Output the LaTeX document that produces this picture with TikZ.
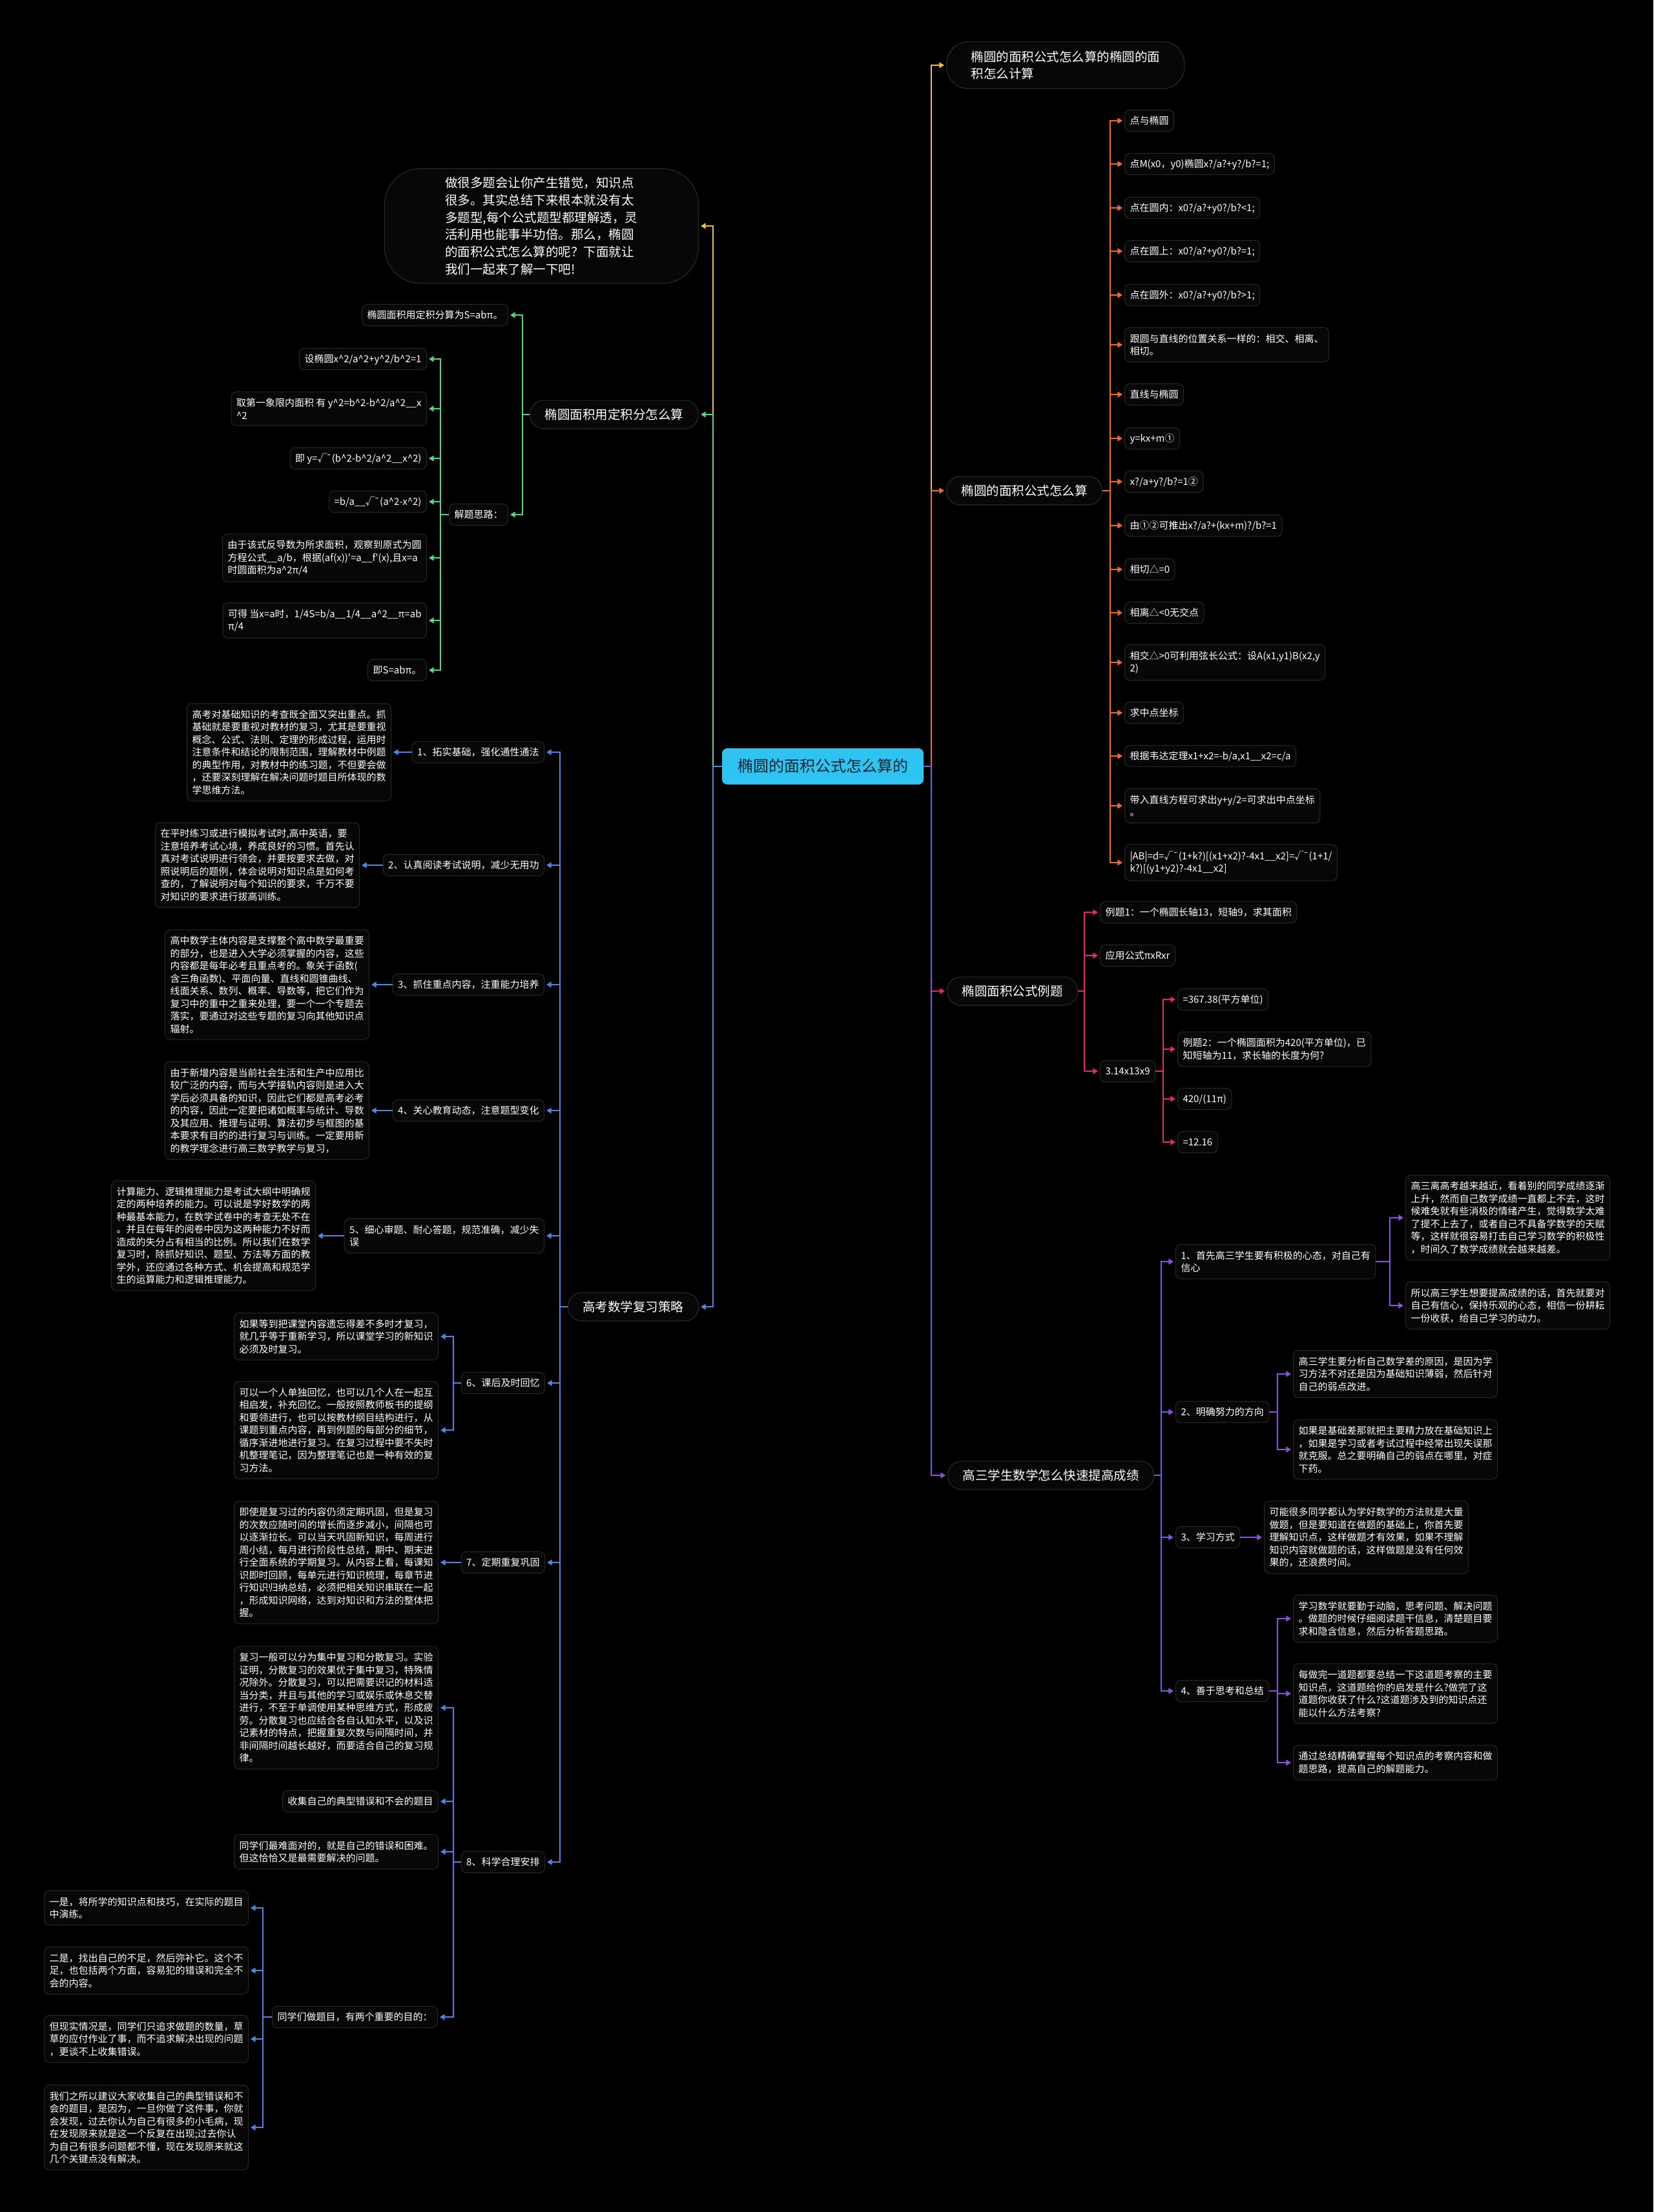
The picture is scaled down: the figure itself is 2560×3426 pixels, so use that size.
\documentclass[tikz,border=0pt]{standalone}
\usepackage{fontspec}
\setmainfont{Noto Sans CJK SC}
\usetikzlibrary{arrows.meta}
\definecolor{bg}{HTML}{000000}
\definecolor{bordc}{HTML}{282828}
\definecolor{nodef}{HTML}{070707}
\definecolor{cyanr}{HTML}{2EC3F1}
\definecolor{roott}{HTML}{1A2430}
\definecolor{cyel}{HTML}{F4BC36}
\definecolor{corg}{HTML}{F06B2B}
\definecolor{cpink}{HTML}{E8266E}
\definecolor{cpur}{HTML}{8B50E0}
\definecolor{cgrn}{HTML}{4FD87C}
\definecolor{cblu}{HTML}{4C87E3}
\newcommand\ca{\textasciicircum}
\newcommand\us{\_\_}
\newcommand\sqt{√\kern-0.12em¯}
\tikzset{
 leafbase/.style={draw=bordc, line width=0.5pt, fill=nodef, text=white, rounded corners=4pt,
   font=\fontsize{7.5}{9.75}\selectfont, inner xsep=4pt, inner ysep=4.5pt, align=left},
 leaf/.style={leafbase, text height=6.5pt, text depth=1.1pt},
 wide/.style={leafbase, inner ysep=5pt},
 lvlbase/.style={draw=bordc, line width=0.6pt, fill=nodef, text=white, rounded corners=10.5pt,
   font=\fontsize{9.75}{13.35}\selectfont, inner xsep=11.5pt, inner ysep=6pt},
 lvl/.style={lvlbase, text height=8.5pt, text depth=1.4pt},
 rootn/.style={fill=cyanr, text=roott, rounded corners=4pt, font=\fontsize{12}{14}\selectfont,
   inner xsep=12pt, inner ysep=7.9pt, text height=10.4pt, text depth=1.8pt},
 link/.style={line width=1pt, -{Triangle[length=3.8pt,width=4.4pt]}, shorten >=1.5pt},
}
\begin{document}
\begin{tikzpicture}[x=0.5pt,y=-0.5pt]
\fill[bg] (0,0) rectangle (2560,3426);
\useasboundingbox (0,0) rectangle (2560,3426);
% spine positions
\coordinate (sR) at (1442,0);
\coordinate (sL) at (1104,0);
\coordinate (sO) at (1719,0);
\coordinate (sP) at (1679,0);
\coordinate (sP2) at (1801,0);
\coordinate (sU) at (1798,0);
\coordinate (sU1) at (2152,0);
\coordinate (sU2) at (1978,0);
\coordinate (sG) at (809,0);
\coordinate (sG2) at (682,0);
\coordinate (sB) at (867,0);
\coordinate (sB6) at (702,0);
\coordinate (sB8d) at (407,0);

% root
\node[rootn] (root) at (1274,1187) {椭圆的面积公式怎么算的};

% right level 1
\node[lvlbase, anchor=west, align=left, inner xsep=19pt, inner ysep=7pt, rounded corners=17pt] (t1) at (1465,101) {椭圆的面积公式怎么算的椭圆的面\\积怎么计算};
\node[lvl, anchor=west] (t2) at (1465,760) {椭圆的面积公式怎么算};
\node[lvl, anchor=west] (t3) at (1466,1535) {椭圆面积公式例题};
\node[lvl, anchor=west] (t4) at (1467,2285) {高三学生数学怎么快速提高成绩};

% orange children
\node[leaf, anchor=west] (o1) at (1741,187) {点与椭圆};
\node[leaf, anchor=west] (o2) at (1741,254) {点M(x0，y0)椭圆x?/a?+y?/b?=1;};
\node[leaf, anchor=west] (o3) at (1741,322) {点在圆内：x0?/a?+y0?/b?<1;};
\node[leaf, anchor=west] (o4) at (1741,389) {点在圆上：x0?/a?+y0?/b?=1;};
\node[leaf, anchor=west] (o5) at (1741,457) {点在圆外：x0?/a?+y0?/b?>1;};
\node[wide, anchor=west] (o6) at (1741,534) {跟圆与直线的位置关系一样的：相交、相离、\\相切。};
\node[leaf, anchor=west] (o7) at (1741,611) {直线与椭圆};
\node[leaf, anchor=west] (o8) at (1741,679) {y=kx+m①};
\node[leaf, anchor=west] (o9) at (1741,746) {x?/a+y?/b?=1②};
\node[leaf, anchor=west] (o10) at (1741,814) {由①②可推出x?/a?+(kx+m)?/b?=1};
\node[leaf, anchor=west] (o11) at (1741,882) {相切△=0};
\node[leaf, anchor=west] (o12) at (1741,949) {相离△<0无交点};
\node[wide, anchor=west] (o13) at (1741,1026) {相交△>0可利用弦长公式：设A(x1,y1)B(x2,y\\2)};
\node[leaf, anchor=west] (o14) at (1741,1104) {求中点坐标};
\node[leaf, anchor=west] (o15) at (1741,1171) {根据韦达定理x1+x2=-b/a,x1\us x2=c/a};
\node[wide, anchor=west] (o16) at (1741,1248) {带入直线方程可求出y+y/2=可求出中点坐标\\。};
\node[wide, anchor=west] (o17) at (1741,1336) {|AB|=d=\sqt(1+k?)[(x1+x2)?-4x1\us x2]=\sqt(1+1/\\k?)[(y1+y2)?-4x1\us x2]};

% pink children
\node[leaf, anchor=west] (p1) at (1703,1413) {例题1：一个椭圆长轴13，短轴9，求其面积};
\node[leaf, anchor=west] (p2) at (1703,1480) {应用公式πxRxr};
\node[leaf, anchor=west] (p3) at (1703,1659) {3.14x13x9};
\node[leaf, anchor=west] (q1) at (1823,1548) {=367.38(平方单位)};
\node[wide, anchor=west] (q2) at (1823,1625) {例题2：一个椭圆面积为420(平方单位)，已\\知短轴为11，求长轴的长度为何?};
\node[leaf, anchor=west] (q3) at (1823,1702) {420/(11π)};
\node[leaf, anchor=west] (q4) at (1823,1769) {=12.16};

% purple children
\node[wide, anchor=west] (u1) at (1820,1954) {1、首先高三学生要有积极的心态，对自己有\\信心};
\node[leaf, anchor=west] (u2) at (1820,2187) {2、明确努力的方向};
\node[leaf, anchor=west] (u3) at (1820,2381) {3、学习方式};
\node[leaf, anchor=west] (u4) at (1820,2619) {4、善于思考和总结};
\node[wide, anchor=west] (u1a) at (2176,1886) {高三离高考越来越近，看着别的同学成绩逐渐\\上升，然而自己数学成绩一直都上不去，这时\\候难免就有些消极的情绪产生，觉得数学太难\\了提不上去了，或者自己不具备学数学的天赋\\等，这样就很容易打击自己学习数学的积极性\\，时间久了数学成绩就会越来越差。};
\node[wide, anchor=west] (u1b) at (2176,2022) {所以高三学生想要提高成绩的话，首先就要对\\自己有信心，保持乐观的心态，相信一份耕耘\\一份收获，给自己学习的动力。};
\node[wide, anchor=west] (u2a) at (2002,2128) {高三学生要分析自己数学差的原因，是因为学\\习方法不对还是因为基础知识薄弱，然后针对\\自己的弱点改进。};
\node[wide, anchor=west] (u2b) at (2002,2245) {如果是基础差那就把主要精力放在基础知识上\\，如果是学习或者考试过程中经常出现失误那\\就克服。总之要明确自己的弱点在哪里，对症\\下药。};
\node[wide, anchor=west] (u3a) at (1957,2381) {可能很多同学都认为学好数学的方法就是大量\\做题，但是要知道在做题的基础上，你首先要\\理解知识点，这样做题才有效果，如果不理解\\知识内容就做题的话，这样做题是没有任何效\\果的，还浪费时间。};
\node[wide, anchor=west] (u4a) at (2002,2507) {学习数学就要勤于动脑，思考问题、解决问题\\。做题的时候仔细阅读题干信息，清楚题目要\\求和隐含信息，然后分析答题思路。};
\node[wide, anchor=west] (u4b) at (2002,2623) {每做完一道题都要总结一下这道题考察的主要\\知识点，这道题给你的启发是什么?做完了这\\道题你收获了什么?这道题涉及到的知识点还\\能以什么方法考察?};
\node[wide, anchor=west] (u4c) at (2002,2730) {通过总结精确掌握每个知识点的考察内容和做\\题思路，提高自己的解题能力。};

% left level 1
\node[lvlbase, anchor=east, align=left, inner xsep=47pt, inner ysep=6.5pt, rounded corners=28pt] (intro) at (1082,350) {做很多题会让你产生错觉，知识点\\很多。其实总结下来根本就没有太\\多题型,每个公式题型都理解透，灵\\活利用也能事半功倍。那么，椭圆\\的面积公式怎么算的呢？下面就让\\我们一起来了解一下吧!};
\node[lvl, anchor=east] (g) at (1082,642) {椭圆面积用定积分怎么算};
\node[lvl, anchor=east] (b) at (1082,2024) {高考数学复习策略};

% green children
\node[leaf, anchor=east] (g1) at (787,488) {椭圆面积用定积分算为S=abπ。};
\node[leaf, anchor=east] (g2) at (787,797) {解题思路：};
\node[leaf, anchor=east] (h1) at (661,556) {设椭圆x\ca 2/a\ca 2+y\ca 2/b\ca 2=1};
\node[wide, anchor=east] (h2) at (661,633) {取第一象限内面积 有 y\ca 2=b\ca 2-b\ca 2/a\ca 2\us x\\\ca 2};
\node[leaf, anchor=east] (h3) at (661,710) {即 y=\sqt(b\ca 2-b\ca 2/a\ca 2\us x\ca 2)};
\node[leaf, anchor=east] (h4) at (661,777) {=b/a\us\sqt(a\ca 2-x\ca 2)};
\node[wide, anchor=east] (h5) at (661,864) {由于该式反导数为所求面积，观察到原式为圆\\方程公式\us a/b，根据(af(x))\textquotesingle=a\us f\textquotesingle(x),且x=a\\时圆面积为a\ca 2π/4};
\node[wide, anchor=east] (h6) at (661,961) {可得 当x=a时，1/4S=b/a\us 1/4\us a\ca 2\us π=ab\\π/4};
\node[leaf, anchor=east] (h7) at (661,1038) {即S=abπ。};

% blue children
\node[leaf, anchor=east] (B1) at (843,1165) {1、拓实基础，强化通性通法};
\node[leaf, anchor=east] (B2) at (843,1340) {2、认真阅读考试说明，减少无用功};
\node[leaf, anchor=east] (B3) at (843,1525) {3、抓住重点内容，注重能力培养};
\node[leaf, anchor=east] (B4) at (843,1720) {4、关心教育动态，注意题型变化};
\node[wide, anchor=east] (B5) at (843,1914) {5、细心审题、耐心答题，规范准确，减少失\\误};
\node[leaf, anchor=east] (B6) at (844,2142) {6、课后及时回忆};
\node[leaf, anchor=east] (B7) at (844,2420) {7、定期重复巩固};
\node[leaf, anchor=east] (B8) at (844,2884) {8、科学合理安排};

\node[wide, anchor=east] (Ba1) at (606,1165) {高考对基础知识的考查既全面又突出重点。抓\\基础就是要重视对教材的复习，尤其是要重视\\概念、公式、法则、定理的形成过程，运用时\\注意条件和结论的限制范围，理解教材中例题\\的典型作用，对教材中的练习题，不但要会做\\，还要深刻理解在解决问题时题目所体现的数\\学思维方法。};
\node[wide, anchor=east] (Ba2) at (557,1340) {在平时练习或进行模拟考试时,高中英语，要\\注意培养考试心境，养成良好的习惯。首先认\\真对考试说明进行领会，并要按要求去做，对\\照说明后的题例，体会说明对知识点是如何考\\查的，了解说明对每个知识的要求，千万不要\\对知识的要求进行拔高训练。};
\node[wide, anchor=east] (Ba3) at (572,1525) {高中数学主体内容是支撑整个高中数学最重要\\的部分，也是进入大学必须掌握的内容，这些\\内容都是每年必考且重点考的。象关于函数(\\含三角函数)、平面向量、直线和圆锥曲线、\\线面关系、数列、概率、导数等，把它们作为\\复习中的重中之重来处理，要一个一个专题去\\落实，要通过对这些专题的复习向其他知识点\\辐射。};
\node[wide, anchor=east] (Ba4) at (572,1720) {由于新增内容是当前社会生活和生产中应用比\\较广泛的内容，而与大学接轨内容则是进入大\\学后必须具备的知识，因此它们都是高考必考\\的内容，因此一定要把诸如概率与统计、导数\\及其应用、推理与证明、算法初步与框图的基\\本要求有目的的进行复习与训练。一定要用新\\的教学理念进行高三数学教学与复习，};
\node[wide, anchor=east] (Ba5) at (489,1914) {计算能力、逻辑推理能力是考试大纲中明确规\\定的两种培养的能力。可以说是学好数学的两\\种最基本能力，在数学试卷中的考查无处不在\\。并且在每年的阅卷中因为这两种能力不好而\\造成的失分占有相当的比例。所以我们在数学\\复习时，除抓好知识、题型、方法等方面的教\\学外，还应通过各种方式、机会提高和规范学\\生的运算能力和逻辑推理能力。};
\node[wide, anchor=east] (B6a) at (679,2070) {如果等到把课堂内容遗忘得差不多时才复习，\\就几乎等于重新学习，所以课堂学习的新知识\\必须及时复习。};
\node[wide, anchor=east] (B6b) at (679,2215) {可以一个人单独回忆，也可以几个人在一起互\\相启发，补充回忆。一般按照教师板书的提纲\\和要领进行，也可以按教材纲目结构进行，从\\课题到重点内容，再到例题的每部分的细节，\\循序渐进地进行复习。在复习过程中要不失时\\机整理笔记，因为整理笔记也是一种有效的复\\习方法。};
\node[wide, anchor=east] (B7a) at (679,2420) {即使是复习过的内容仍须定期巩固，但是复习\\的次数应随时间的增长而逐步减小，间隔也可\\以逐渐拉长。可以当天巩固新知识，每周进行\\周小结，每月进行阶段性总结，期中、期末进\\行全面系统的学期复习。从内容上看，每课知\\识即时回顾，每单元进行知识梳理，每章节进\\行知识归纳总结，必须把相关知识串联在一起\\，形成知识网络，达到对知识和方法的整体把\\握。};
\node[wide, anchor=east] (B8a) at (679,2645) {复习一般可以分为集中复习和分散复习。实验\\证明，分散复习的效果优于集中复习，特殊情\\况除外。分散复习，可以把需要识记的材料适\\当分类，并且与其他的学习或娱乐或休息交替\\进行，不至于单调使用某种思维方式，形成疲\\劳。分散复习也应结合各自认知水平，以及识\\记素材的特点，把握重复次数与间隔时间，并\\非间隔时间越长越好，而要适合自己的复习规\\律。};
\node[leaf, anchor=east] (B8b) at (679,2790) {收集自己的典型错误和不会的题目};
\node[wide, anchor=east] (B8c) at (679,2868) {同学们最难面对的，就是自己的错误和困难。\\但这恰恰又是最需要解决的问题。};
\node[leaf, anchor=east] (B8d) at (678,3124) {同学们做题目，有两个重要的目的：};
\node[wide, anchor=east] (C1) at (385,2955) {一是，将所学的知识点和技巧，在实际的题目\\中演练。};
\node[wide, anchor=east] (C2) at (385,3052) {二是，找出自己的不足，然后弥补它。这个不\\足，也包括两个方面，容易犯的错误和完全不\\会的内容。};
\node[wide, anchor=east] (C3) at (385,3158) {但现实情况是，同学们只追求做题的数量，草\\草的应付作业了事，而不追求解决出现的问题\\，更谈不上收集错误。};
\node[wide, anchor=east] (C4) at (385,3295) {我们之所以建议大家收集自己的典型错误和不\\会的题目，是因为，一旦你做了这件事，你就\\会发现，过去你认为自己有很多的小毛病，现\\在发现原来就是这一个反复在出现;过去你认\\为自己有很多问题都不懂，现在发现原来就这\\几个关键点没有解决。};

% ---- connectors ----
\draw[link,cyel] (root.east) -- (root.east -| sR) |- (t1.west);
\draw[link,corg] (root.east) -- (root.east -| sR) |- (t2.west);
\draw[link,cpink] (root.east) -- (root.east -| sR) |- (t3.west);
\draw[link,cpur] (root.east) -- (root.east -| sR) |- (t4.west);
\draw[link,cyel] (root.west) -- (root.west -| sL) |- (intro.east);
\draw[link,cgrn] (root.west) -- (root.west -| sL) |- (g.east);
\draw[link,cblu] (root.west) -- (root.west -| sL) |- (b.east);

\foreach \i in {1,...,17} \draw[link,corg] (t2.east) -- (t2.east -| sO) |- (o\i.west);
\foreach \i in {1,2,3} \draw[link,cpink] (t3.east) -- (t3.east -| sP) |- (p\i.west);
\foreach \i in {1,2,3,4} \draw[link,cpink] (p3.east) -- (p3.east -| sP2) |- (q\i.west);

\foreach \i in {1,2,3,4} \draw[link,cpur] (t4.east) -- (t4.east -| sU) |- (u\i.west);
\draw[link,cpur] (u1.east) -- (u1.east -| sU1) |- (u1a.west);
\draw[link,cpur] (u1.east) -- (u1.east -| sU1) |- (u1b.west);
\draw[link,cpur] (u2.east) -- (u2.east -| sU2) |- (u2a.west);
\draw[link,cpur] (u2.east) -- (u2.east -| sU2) |- (u2b.west);
\draw[link,cpur] (u3.east) -- (u3a.west);
\draw[link,cpur] (u4.east) -- (u4.east -| sU2) |- (u4a.west);
\draw[link,cpur] (u4.east) -- (u4.east -| sU2) |- (u4b.west);
\draw[link,cpur] (u4.east) -- (u4.east -| sU2) |- (u4c.west);

\draw[link,cgrn] (g.west) -- (g.west -| sG) |- (g1.east);
\draw[link,cgrn] (g.west) -- (g.west -| sG) |- (g2.east);
\foreach \i in {1,...,7} \draw[link,cgrn] (g2.west) -- (g2.west -| sG2) |- (h\i.east);

\foreach \i in {1,...,8} \draw[link,cblu] (b.west) -- (b.west -| sB) |- (B\i.east);
\foreach \i in {1,...,5} \draw[link,cblu] (B\i.west) -- (Ba\i.east);
\draw[link,cblu] (B6.west) -- (B6.west -| sB6) |- (B6a.east);
\draw[link,cblu] (B6.west) -- (B6.west -| sB6) |- (B6b.east);
\draw[link,cblu] (B7.west) -- (B7a.east);
\draw[link,cblu] (B8.west) -- (B8.west -| sB6) |- (B8a.east);
\draw[link,cblu] (B8.west) -- (B8.west -| sB6) |- (B8b.east);
\draw[link,cblu] (B8.west) -- (B8.west -| sB6) |- (B8c.east);
\draw[link,cblu] (B8.west) -- (B8.west -| sB6) |- (B8d.east);
\foreach \i in {1,...,4} \draw[link,cblu] (B8d.west) -- (B8d.west -| sB8d) |- (C\i.east);
\end{tikzpicture}
\end{document}
